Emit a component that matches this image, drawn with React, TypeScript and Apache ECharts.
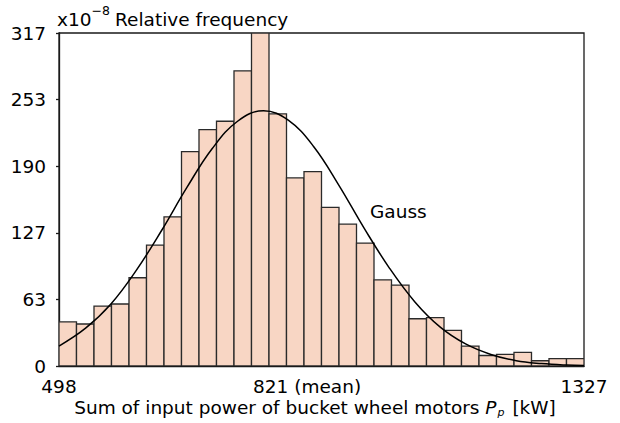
import React, { useEffect, useRef } from "react";
import * as echarts from "echarts";

// Histogram: relative frequency (x10^-8) per bin of summed input power [kW]
const X_MIN = 498;
const X_MEAN = 821;
const X_MAX = 1327;
const BIN_COUNT = 30;
const BIN_VALUES = [
  42, 40, 57, 59, 84, 115, 142, 204, 225, 233, 281, 317, 240, 179, 185,
  151, 135, 117, 82, 77, 45, 46, 34, 19, 10, 11, 13, 5, 7, 7,
];

// Gauss curve
const GAUSS_X = [
  498, 540, 580, 620, 660, 700, 740, 780, 821, 860, 900, 940, 980, 1020,
  1060, 1100, 1140, 1180, 1220, 1260, 1300, 1327,
];
const GAUSS_Y = [
  19, 36, 59, 91, 129, 170, 207, 233, 243, 234, 209, 172, 131, 93, 61, 37,
  21, 11, 5, 2.3, 0.9, 0.5,
];

const Y_MAX = 317;
const Y_TICK_LABELS = ["0", "63", "127", "190", "253", "317"];
const X_TICK_VALUES = [X_MIN, X_MEAN, X_MAX];

const FONT = "DejaVu Sans";
const FS = 18.5;
const BAR_FILL = "#f8d6c4";
const INK = "#1a1a1a";

export default function App() {
  const ref = useRef<HTMLDivElement>(null);

  useEffect(() => {
    document.body.style.margin = "0";
    const chart = echarts.init(ref.current!, null, { renderer: "svg" });
    const binW = (X_MAX - X_MIN) / BIN_COUNT;
    const barData = BIN_VALUES.map((v, i) => [
      X_MIN + i * binW,
      X_MIN + (i + 1) * binW,
      v,
    ]);
    const gaussData = GAUSS_X.map((x, i) => [x, GAUSS_Y[i]]);

    chart.setOption({
      animation: false,
      backgroundColor: "#ffffff",
      textStyle: { fontFamily: FONT },
      grid: {
        left: 59,
        right: 36,
        top: 33,
        bottom: 57,
        show: true,
        borderColor: INK,
        borderWidth: 1.3,
      },
      xAxis: {
        type: "value",
        min: X_MIN,
        max: X_MAX,
        splitLine: { show: false },
        axisLine: { show: true, lineStyle: { color: INK, width: 1.3 } },
        axisTick: { show: false },
        axisLabel: {
          customValues: X_TICK_VALUES,
          color: "#000",
          fontFamily: FONT,
          fontSize: FS,
          lineHeight: 19,
          margin: 11,
          formatter: (v: number) =>
            Math.round(v) === X_MEAN ? "{m|" + X_MEAN + " (mean)}" : String(Math.round(v)),
          rich: {
            m: {
              fontFamily: FONT,
              fontSize: FS,
              lineHeight: 19,
              color: "#000",
              padding: [0, 0, 0, 87],
            },
          },
        },
      },
      yAxis: {
        type: "value",
        min: 0,
        max: Y_MAX,
        interval: Y_MAX / 5,
        splitLine: { show: false },
        axisLine: { show: true, lineStyle: { color: INK, width: 1.3 } },
        axisTick: { show: true, length: 3, lineStyle: { color: INK, width: 1.3 } },
        axisLabel: {
          color: "#000",
          fontFamily: FONT,
          fontSize: FS,
          margin: 13,
          formatter: (v: number) => Y_TICK_LABELS[Math.round(v / (Y_MAX / 5))] ?? "",
        },
      },
      series: [
        {
          type: "custom",
          data: barData,
          encode: { x: [0, 1], y: 2 },
          clip: true,
          renderItem: (params: any, api: any) => {
            const p0 = api.coord([api.value(0), api.value(2)]);
            const p1 = api.coord([api.value(1), 0]);
            return {
              type: "rect",
              shape: { x: p0[0], y: p0[1], width: p1[0] - p0[0], height: p1[1] - p0[1] },
              style: { fill: BAR_FILL, stroke: "#2a2a2a", lineWidth: 1.3 },
            };
          },
          z: 2,
        },
        {
          type: "line",
          data: gaussData,
          smooth: 0.4,
          symbol: "none",
          lineStyle: { color: "#000", width: 1.5 },
          z: 3,
        },
      ],
      graphic: [
        {
          type: "text",
          x: 57,
          y: 19.5,
          style: {
            text: "x10",
            fontFamily: FONT,
            fontSize: FS,
            fill: "#000",
            align: "left",
            verticalAlign: "middle",
          },
        },
        {
          type: "text",
          x: 91.5,
          y: 10.5,
          style: {
            text: "\u22128",
            fontFamily: FONT,
            fontSize: 12.5,
            fill: "#000",
            align: "left",
            verticalAlign: "middle",
          },
        },
        {
          type: "text",
          x: 115,
          y: 19.5,
          style: {
            text: "Relative frequency",
            fontFamily: FONT,
            fontSize: FS,
            fill: "#000",
            align: "left",
            verticalAlign: "middle",
          },
        },
        {
          type: "text",
          x: 370,
          y: 211,
          style: {
            text: "Gauss",
            fontFamily: FONT,
            fontSize: FS,
            fill: "#000",
            align: "left",
            verticalAlign: "middle",
          },
        },
        {
          type: "text",
          x: 315,
          y: 398,
          style: {
            text: "{n|Sum of input power of bucket wheel motors }{i|P}{sub|p}{n| [kW]}",
            align: "center",
            verticalAlign: "top",
            rich: {
              n: { fontFamily: FONT, fontSize: FS, lineHeight: 20, verticalAlign: "top", fill: "#000" },
              i: { fontFamily: FONT, fontSize: FS, fontStyle: "italic", lineHeight: 20, verticalAlign: "top", fill: "#000" },
              sub: { fontFamily: FONT, fontSize: 11, fontStyle: "italic", lineHeight: 11, verticalAlign: "bottom", fill: "#000", padding: [0, 2, 0, 1] },
            },
          },
        },
      ],
    });
    return () => chart.dispose();
  }, []);

  return (
    <div
      ref={ref}
      style={{ position: "fixed", left: 0, top: 0, width: 620, height: 423 }}
    />
  );
}
